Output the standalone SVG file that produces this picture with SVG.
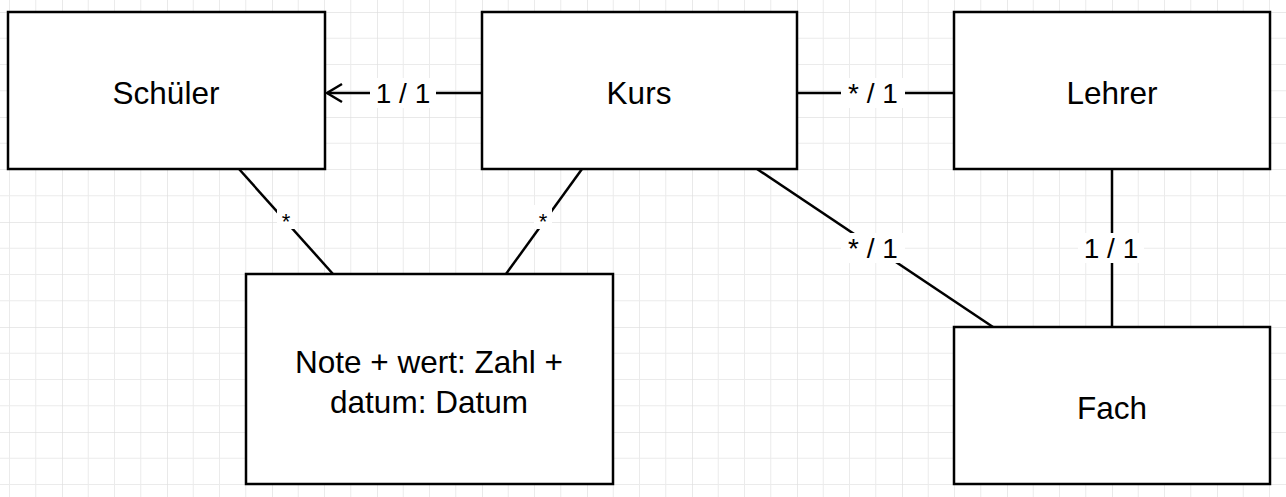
<svg xmlns="http://www.w3.org/2000/svg" width="1286" height="497" viewBox="0 0 1286 497">
<defs>
<pattern id="g" width="105" height="105" patternUnits="userSpaceOnUse" x="62" y="12">
<path d="M0 0V105M26.25 0V105M52.5 0V105M78.75 0V105M0 0H105M0 26.25H105M0 52.5H105M0 78.75H105" stroke="#ebebeb" stroke-width="1" fill="none"/>
<path d="M0 0V105M0 0H105" stroke="#dcdcdc" stroke-width="1" fill="none"/>
</pattern>
<style>
.n rect{fill:#fff;stroke:#000;stroke-width:2.5}
text{font-family:"Liberation Sans",Arial,sans-serif;text-anchor:middle;dominant-baseline:central;fill:#000}
.n text{font-size:31.5px}
.c line,.c path{stroke:#000;stroke-width:2.5;fill:none}
.l{font-size:28px}
.lb{fill:#fff}
</style>
</defs>
<rect width="1286" height="497" fill="#fff"/>
<rect width="1286" height="497" fill="url(#g)"/>
<g class="c" id="connectors">
<line x1="482" y1="93" x2="327" y2="93"/>
<path d="M342 84L327 93L342 102"/>
<line x1="797" y1="93" x2="954" y2="93"/>
<line x1="239" y1="169" x2="333" y2="274"/>
<line x1="582" y1="169" x2="506" y2="274"/>
<line x1="757" y1="169" x2="993" y2="327"/>
<line x1="1112" y1="169" x2="1112" y2="327"/>
<rect class="lb" x="370" y="78" width="66" height="30" style="stroke:none"/>
<rect class="lb" x="841" y="78" width="64" height="30" style="stroke:none"/>
<rect class="lb" x="277" y="205" width="18" height="24" style="stroke:none"/>
<rect class="lb" x="534" y="205" width="18" height="24" style="stroke:none"/>
<rect class="lb" x="841" y="233" width="64" height="30" style="stroke:none"/>
<rect class="lb" x="1078" y="233" width="66" height="30" style="stroke:none"/>
<text class="l" x="403" y="93">1 / 1</text>
<text class="l" x="873" y="93">* / 1</text>
<text class="l" x="286" y="221" style="font-size:22px">*</text>
<text class="l" x="543" y="221" style="font-size:22px">*</text>
<text class="l" x="873" y="248">* / 1</text>
<text class="l" x="1111" y="248">1 / 1</text>
</g>
<g class="n" id="schueler"><rect x="8" y="12" width="317" height="157"/><text x="166" y="93">Schüler</text></g>
<g class="n" id="kurs"><rect x="482" y="12" width="315" height="157"/><text x="639" y="93">Kurs</text></g>
<g class="n" id="lehrer"><rect x="954" y="12" width="316" height="157"/><text x="1112" y="93">Lehrer</text></g>
<g class="n" id="note"><rect x="246" y="274" width="367" height="210"/><text x="429" y="362">Note + wert: Zahl +</text><text x="429" y="402">datum: Datum</text></g>
<g class="n" id="fach"><rect x="954" y="327" width="316" height="157"/><text x="1112" y="408">Fach</text></g>
</svg>
